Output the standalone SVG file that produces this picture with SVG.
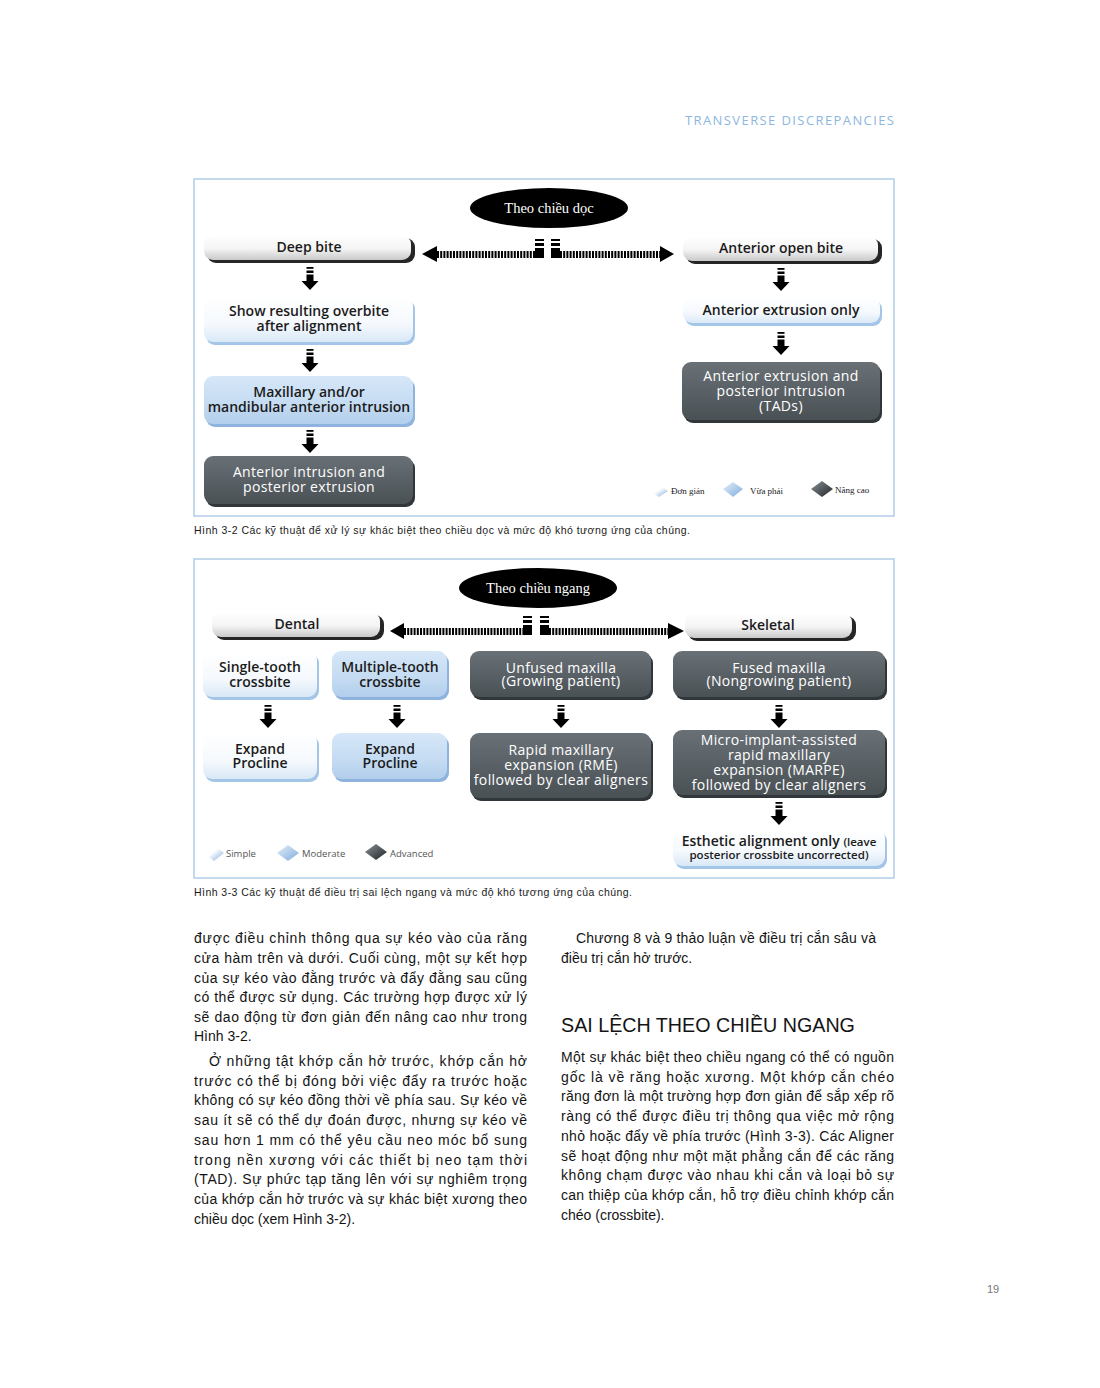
<svg xmlns="http://www.w3.org/2000/svg" width="1100" height="1388" viewBox="0 0 1100 1388">
<defs>
<linearGradient id="gW" x1="0" y1="0" x2="0" y2="1"><stop offset="0" stop-color="#ffffff"/><stop offset="0.55" stop-color="#f4f4f4"/><stop offset="1" stop-color="#c9c9c9"/></linearGradient>
<linearGradient id="gL" x1="0" y1="0" x2="0" y2="1"><stop offset="0" stop-color="#ffffff"/><stop offset="0.6" stop-color="#f5f9fd"/><stop offset="1" stop-color="#d9e8f7"/></linearGradient>
<linearGradient id="gB" x1="0" y1="0" x2="0" y2="1"><stop offset="0" stop-color="#d6e7f8"/><stop offset="0.6" stop-color="#c4dbf2"/><stop offset="1" stop-color="#b2ceec"/></linearGradient>
<linearGradient id="gD" x1="0" y1="0" x2="0" y2="1"><stop offset="0" stop-color="#6a7176"/><stop offset="0.5" stop-color="#5a6166"/><stop offset="1" stop-color="#4a5155"/></linearGradient>
<linearGradient id="dS" x1="0" y1="0" x2="1" y2="1"><stop offset="0.45" stop-color="#ffffff"/><stop offset="1" stop-color="#7eaad9"/></linearGradient>
<linearGradient id="dM" x1="0" y1="0" x2="1" y2="1"><stop offset="0" stop-color="#e6f0fb"/><stop offset="1" stop-color="#7fabdc"/></linearGradient>
<linearGradient id="dA" x1="0" y1="0" x2="1" y2="1"><stop offset="0" stop-color="#8a9297"/><stop offset="1" stop-color="#1f2325"/></linearGradient>
<g id="dn">
<rect x="-3.5" y="0" width="7" height="1.8"/>
<rect x="-3.5" y="3.5" width="7" height="2.5"/>
<rect x="-3.5" y="7.5" width="7" height="6.5"/>
<polygon points="-8.5,14 8.5,14 0,23"/>
</g>
<g id="mk">
<rect x="0" y="0" width="9" height="2"/>
<rect x="0" y="4" width="9" height="3"/>
<rect x="0" y="9" width="9" height="10"/>
</g>
</defs>
<style>
.frame{fill:none;stroke:#b3cde8;stroke-width:1.5}
.t{font-family:"Open Sans","Liberation Sans",sans-serif;font-size:14px;font-weight:600;fill:#1b1b1b;text-anchor:middle}
.ts{font-size:11.5px}
.tw{font-family:"Open Sans","Liberation Sans",sans-serif;font-size:14px;font-weight:500;letter-spacing:0.35px;fill:#ffffff;text-anchor:middle}
.et{font-family:"Liberation Serif",serif;font-size:14.5px;fill:#ffffff;text-anchor:middle}
.shW{fill:#262626}
.shL{fill:#a3c5e8}
.shB{fill:#8db3de}
.shD{fill:#30363a}
.dash{stroke:#000;stroke-width:7;stroke-dasharray:2 1.2;fill:none}
.body{font-family:"Liberation Sans",Arial,sans-serif;font-size:14px;fill:#141414}
.cap{font-family:"Liberation Sans",Arial,sans-serif;font-size:10.5px;fill:#1a1a1a}
.lg1{font-family:"Liberation Serif",serif;font-size:9px;fill:#222}
.lg2{font-family:"Open Sans","Liberation Sans",sans-serif;font-size:9.5px;fill:#555}
</style>
<rect width="1100" height="1388" fill="#ffffff"/>

<text x="685" y="125" textLength="209" lengthAdjust="spacing" style="font-family:'Open Sans','Liberation Sans',sans-serif;font-size:13px;fill:#8db7df">TRANSVERSE DISCREPANCIES</text>

<!-- Figure 3-2 -->
<rect class="frame" x="194" y="179" width="700" height="337"/>

<g id="n-vertical">
<ellipse cx="549" cy="208" rx="79" ry="20" fill="#000"/>
<text class="et" x="549" y="213">Theo chiều dọc</text>
</g>
<g id="n-deepbite">
<rect class="shW" x="207" y="238" width="208" height="25" rx="9"/>
<rect x="204" y="235" width="207" height="25" rx="9" fill="url(#gW)"/>
<text class="t" x="309" y="252">Deep bite</text>
</g>
<g id="n-overbite">
<rect class="shL" x="206" y="300" width="209" height="45" rx="9"/>
<rect x="204" y="297" width="209" height="45" rx="9" fill="url(#gL)"/>
<text class="t" x="309" y="316">Show resulting overbite</text>
<text class="t" x="309" y="331">after alignment</text>
</g>
<g id="n-maxintrusion">
<rect class="shB" x="206" y="379" width="209" height="48" rx="9"/>
<rect x="204" y="376" width="209" height="48" rx="9" fill="url(#gB)"/>
<text class="t" x="309" y="397">Maxillary and/or</text>
<text class="t" x="309" y="412">mandibular anterior intrusion</text>
</g>
<g id="n-antintrusion">
<rect class="shD" x="206" y="459" width="209" height="48" rx="9"/>
<rect x="204" y="456" width="209" height="48" rx="9" fill="url(#gD)"/>
<text class="tw" x="309" y="477">Anterior intrusion and</text>
<text class="tw" x="309" y="492">posterior extrusion</text>
</g>
<g id="n-openbite">
<rect class="shW" x="686" y="239" width="196" height="25" rx="9"/>
<rect x="683" y="236" width="195" height="25" rx="9" fill="url(#gW)"/>
<text class="t" x="781" y="253">Anterior open bite</text>
</g>
<g id="n-extrusiononly">
<rect class="shL" x="685" y="300" width="197" height="26" rx="9"/>
<rect x="683" y="297" width="197" height="26" rx="9" fill="url(#gL)"/>
<text class="t" x="781" y="315">Anterior extrusion only</text>
</g>
<g id="n-tads">
<rect class="shD" x="684" y="365" width="198" height="58" rx="9"/>
<rect x="682" y="362" width="198" height="58" rx="9" fill="url(#gD)"/>
<text class="tw" x="781" y="381">Anterior extrusion and</text>
<text class="tw" x="781" y="396">posterior intrusion</text>
<text class="tw" x="781" y="411">(TADs)</text>
</g>
<g id="legend1">
<polygon points="650,491 659,485 668,491 659,497" fill="url(#dS)"/>
<text class="lg1" x="671" y="494">Đơn giản</text>
<polygon points="723,489 733,482 743,489 733,497" fill="url(#dM)"/>
<text class="lg1" x="750" y="494">Vừa phải</text>
<polygon points="811,489 822,481 833,489 822,497" fill="url(#dA)"/>
<text class="lg1" x="835" y="493">Nâng cao</text>
</g>

<g id="connectors-1">
<polygon points="422,254 437,246 437,262"/>
<line class="dash" x1="437" y1="254.5" x2="535" y2="254.5"/>
<use href="#mk" x="535" y="239"/>
<use href="#mk" x="551" y="239"/>
<line class="dash" x1="560" y1="254.5" x2="660" y2="254.5"/>
<polygon points="660,246 660,262 674,254"/>
<use href="#dn" x="310" y="267"/>
<use href="#dn" x="310" y="349"/>
<use href="#dn" x="310" y="430"/>
<use href="#dn" x="781" y="268"/>
<use href="#dn" x="781" y="332"/>
</g>

<text class="cap" x="194" y="534" textLength="496" lengthAdjust="spacing">Hình 3-2 Các kỹ thuật để xử lý sự khác biệt theo chiều dọc và mức độ khó tương ứng của chúng.</text>

<!-- Figure 3-3 -->
<rect class="frame" x="194" y="559" width="700" height="319"/>

<g id="n-horizontal">
<ellipse cx="538" cy="588" rx="79" ry="20" fill="#000"/>
<text class="et" x="538" y="593">Theo chiều ngang</text>
</g>
<g id="n-dental">
<rect class="shW" x="215" y="615" width="169" height="25" rx="9"/>
<rect x="212" y="612" width="168" height="25" rx="9" fill="url(#gW)"/>
<text class="t" x="297" y="629">Dental</text>
</g>
<g id="n-skeletal">
<rect class="shW" x="688" y="616" width="168" height="25" rx="9"/>
<rect x="685" y="613" width="167" height="25" rx="9" fill="url(#gW)"/>
<text class="t" x="768" y="630">Skeletal</text>
</g>
<g id="n-single">
<rect class="shL" x="205" y="654" width="114" height="46" rx="9"/>
<rect x="203" y="651" width="114" height="46" rx="9" fill="url(#gL)"/>
<text class="t" x="260" y="672">Single-tooth</text>
<text class="t" x="260" y="687">crossbite</text>
</g>
<g id="n-multiple">
<rect class="shB" x="334" y="654" width="115" height="46" rx="9"/>
<rect x="332" y="651" width="115" height="46" rx="9" fill="url(#gB)"/>
<text class="t" x="390" y="672">Multiple-tooth</text>
<text class="t" x="390" y="687">crossbite</text>
</g>
<g id="n-unfused">
<rect class="shD" x="472" y="654" width="181" height="46" rx="9"/>
<rect x="470" y="651" width="181" height="46" rx="9" fill="url(#gD)"/>
<text class="tw" x="561" y="673">Unfused maxilla</text>
<text class="tw ts" x="561" y="686">(Growing patient)</text>
</g>
<g id="n-fused">
<rect class="shD" x="675" y="654" width="212" height="46" rx="9"/>
<rect x="673" y="651" width="212" height="46" rx="9" fill="url(#gD)"/>
<text class="tw" x="779" y="673">Fused maxilla</text>
<text class="tw ts" x="779" y="686">(Nongrowing patient)</text>
</g>
<g id="n-expand1">
<rect class="shL" x="205" y="736" width="114" height="46" rx="9"/>
<rect x="203" y="733" width="114" height="46" rx="9" fill="url(#gL)"/>
<text class="t" x="260" y="754">Expand</text>
<text class="t" x="260" y="768">Procline</text>
</g>
<g id="n-expand2">
<rect class="shB" x="334" y="736" width="115" height="46" rx="9"/>
<rect x="332" y="733" width="115" height="46" rx="9" fill="url(#gB)"/>
<text class="t" x="390" y="754">Expand</text>
<text class="t" x="390" y="768">Procline</text>
</g>
<g id="n-rme">
<rect class="shD" x="472" y="736" width="181" height="65" rx="9"/>
<rect x="470" y="733" width="181" height="65" rx="9" fill="url(#gD)"/>
<text class="tw" x="561" y="755">Rapid maxillary</text>
<text class="tw" x="561" y="770">expansion (RME)</text>
<text class="tw" x="561" y="785">followed by clear aligners</text>
</g>
<g id="n-marpe">
<rect class="shD" x="675" y="733" width="212" height="65" rx="9"/>
<rect x="673" y="730" width="212" height="65" rx="9" fill="url(#gD)"/>
<text class="tw" x="779" y="745">Micro-implant-assisted</text>
<text class="tw" x="779" y="760">rapid maxillary</text>
<text class="tw" x="779" y="775">expansion (MARPE)</text>
<text class="tw" x="779" y="790">followed by clear aligners</text>
</g>
<g id="n-esthetic">
<rect class="shL" x="675" y="832" width="212" height="37" rx="9"/>
<rect x="673" y="829" width="212" height="37" rx="9" fill="url(#gL)"/>
<text class="t" x="779" y="846">Esthetic alignment only <tspan style="font-size:11.5px">(leave</tspan></text>
<text class="t ts" x="779" y="859">posterior crossbite uncorrected)</text>
</g>
<g id="legend2">
<polygon points="204,853 214,845 224,853 214,861" fill="url(#dS)"/>
<text class="lg2" x="226" y="857">Simple</text>
<polygon points="277,853 288,845 299,853 288,861" fill="url(#dM)"/>
<text class="lg2" x="302" y="857">Moderate</text>
<polygon points="365,852 376,844 387,852 376,860" fill="url(#dA)"/>
<text class="lg2" x="390" y="857">Advanced</text>
</g>

<g id="connectors-2">
<polygon points="390,631 404,623 404,639"/>
<line class="dash" x1="404" y1="631.5" x2="523" y2="631.5"/>
<use href="#mk" x="523" y="616"/>
<use href="#mk" x="540" y="616"/>
<line class="dash" x1="549" y1="631.5" x2="668" y2="631.5"/>
<polygon points="668,623 668,639 684,631"/>
<use href="#dn" x="268" y="705"/>
<use href="#dn" x="397" y="705"/>
<use href="#dn" x="561" y="705"/>
<use href="#dn" x="779" y="705"/>
<use href="#dn" x="779" y="802"/>
</g>

<text class="cap" x="194" y="896" textLength="438" lengthAdjust="spacing">Hình 3-3 Các kỹ thuật để điều trị sai lệch ngang và mức độ khó tương ứng của chúng.</text>

<!-- Body text -->
<g class="body">
<text x="194" y="943" textLength="333" lengthAdjust="spacing">được điều chỉnh thông qua sự kéo vào của răng</text>
<text x="194" y="963" textLength="333" lengthAdjust="spacing">cửa hàm trên và dưới. Cuối cùng, một sự kết hợp</text>
<text x="194" y="983" textLength="333" lengthAdjust="spacing">của sự kéo vào đằng trước và đẩy đằng sau cũng</text>
<text x="194" y="1002" textLength="333" lengthAdjust="spacing">có thể được sử dụng. Các trường hợp được xử lý</text>
<text x="194" y="1022" textLength="333" lengthAdjust="spacing">sẽ dao động từ đơn giản đến nâng cao như trong</text>
<text x="194" y="1041">Hình 3-2.</text>
<text x="209" y="1066" textLength="318" lengthAdjust="spacing">Ở những tật khớp cắn hở trước, khớp cắn hở</text>
<text x="194" y="1086" textLength="333" lengthAdjust="spacing">trước có thể bị đóng bởi việc đẩy ra trước hoặc</text>
<text x="194" y="1105" textLength="333" lengthAdjust="spacing">không có sự kéo đồng thời về phía sau. Sự kéo về</text>
<text x="194" y="1125" textLength="333" lengthAdjust="spacing">sau ít sẽ có thể dự đoán được, nhưng sự kéo về</text>
<text x="194" y="1145" textLength="333" lengthAdjust="spacing">sau hơn 1 mm có thể yêu cầu neo móc bổ sung</text>
<text x="194" y="1165" textLength="333" lengthAdjust="spacing">trong nền xương với các thiết bị neo tạm thời</text>
<text x="194" y="1184" textLength="333" lengthAdjust="spacing">(TAD). Sự phức tạp tăng lên với sự nghiêm trọng</text>
<text x="194" y="1204" textLength="333" lengthAdjust="spacing">của khớp cắn hở trước và sự khác biệt xương theo</text>
<text x="194" y="1224">chiều dọc (xem Hình 3-2).</text>

<text x="576" y="943" textLength="300" lengthAdjust="spacing">Chương 8 và 9 thảo luận về điều trị cắn sâu và</text>
<text x="561" y="963">điều trị cắn hở trước.</text>
<text x="561" y="1032" style="font-size:19.7px">SAI LỆCH THEO CHIỀU NGANG</text>
<text x="561" y="1062" textLength="333" lengthAdjust="spacing">Một sự khác biệt theo chiều ngang có thể có nguồn</text>
<text x="561" y="1082" textLength="333" lengthAdjust="spacing">gốc là về răng hoặc xương. Một khớp cắn chéo</text>
<text x="561" y="1101" textLength="333" lengthAdjust="spacing">răng đơn là một trường hợp đơn giản để sắp xếp rõ</text>
<text x="561" y="1121" textLength="333" lengthAdjust="spacing">ràng có thể được điều trị thông qua việc mở rộng</text>
<text x="561" y="1141" textLength="333" lengthAdjust="spacing">nhỏ hoặc đẩy về phía trước (Hình 3-3). Các Aligner</text>
<text x="561" y="1161" textLength="333" lengthAdjust="spacing">sẽ hoạt động như một mặt phẳng cắn để các răng</text>
<text x="561" y="1180" textLength="333" lengthAdjust="spacing">không chạm được vào nhau khi cắn và loại bỏ sự</text>
<text x="561" y="1200" textLength="333" lengthAdjust="spacing">can thiệp của khớp cắn, hỗ trợ điều chỉnh khớp cắn</text>
<text x="561" y="1220">chéo (crossbite).</text>
</g>

<text x="987" y="1293" style="font-family:'Liberation Sans',Arial,sans-serif;font-size:11px;fill:#777">19</text>
</svg>
